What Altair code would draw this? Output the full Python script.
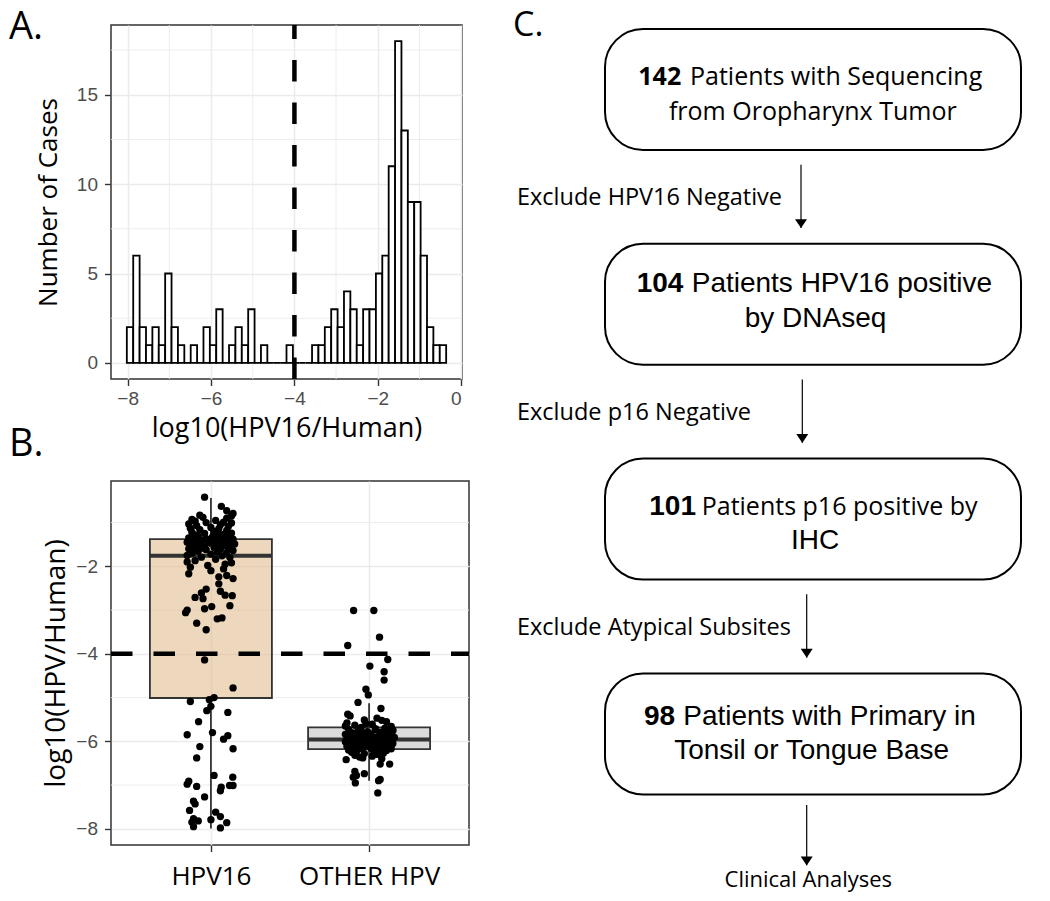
import altair as alt
import pandas as pd

# ---------------- Panel A : histogram of log10(HPV16/Human) ----------------
hist_counts = [2, 6, 2, 1, 2, 1, 5, 2, 1, 0,
               1, 0, 2, 1, 3, 0, 1, 2, 1, 3,
               0, 1, 0, 0, 0, 1, 0, 0, 0, 1,
               1, 2, 3, 2, 4, 3, 1, 3, 3, 5,
               6, 11, 18, 13, 9, 9, 6, 2, 1, 1]
hist_start = -8.02
hist_binwidth = 0.1532
cutoff = -4.0
a_x_ticks = [-8, -6, -4, -2, 0]
a_x_minor = [-7, -5, -3, -1]
a_y_ticks = [0, 5, 10, 15]
a_y_minor = [2.5, 7.5, 12.5, 17.5]

# ---------------- Panel B : box plots with jittered points ----------------
groups = ["HPV16", "OTHER HPV"]
box_lower = [-7.99, -6.90]
box_q1 = [-5.01, -6.18]
box_median = [-1.76, -5.96]
box_q3 = [-1.38, -5.68]
box_upper = [-0.44, -5.13]
b_y_ticks = [-2, -4, -6, -8]
b_y_minor = [-1, -3, -5, -7]

hpv16_values = [
    -7.98, -7.95, -7.72, -7.77, -7.79, -7.82, -7.85, -7.86, -7.58, -7.62,
    -7.43, -7.37, -7.27, -7.13, -7.01, -7.01, -7.03, -7.05, -6.98, -6.82,
    -6.91, -6.78, -6.38, -6.17, -6.12, -5.95, -5.87, -5.85, -5.80, -5.55,
    -5.34, -5.30, -5.20, -5.09, -5.05, -5.00, -4.78, -4.14,
    -3.45, -3.30, -3.20, -3.18, -3.06, -3.00, -2.97, -2.92, -2.90, -2.74,
    -2.71, -2.67, -2.66, -2.61, -2.57, -2.52, -2.40, -2.28, -2.24, -2.21,
    -2.17, -2.10, -2.06,
    -2.02, -1.98, -1.95, -1.92, -1.90,
    -1.87, -1.84, -1.80, -1.79, -1.76, -1.75,
    -1.72, -1.70, -1.69, -1.67, -1.65, -1.64, -1.62, -1.61, -1.60, -1.59, -1.585,
    -1.57, -1.565, -1.56, -1.55, -1.54, -1.53, -1.52, -1.51, -1.50, -1.49,
    -1.48, -1.47, -1.46, -1.45, -1.445, -1.44, -1.435, -1.43,
    -1.42, -1.41, -1.40, -1.39, -1.38, -1.37, -1.36, -1.35, -1.33, -1.32,
    -1.31, -1.29, -1.28,
    -1.27, -1.25, -1.24, -1.22, -1.20, -1.18, -1.16, -1.14, -1.13,
    -1.11, -1.09, -1.07, -1.05, -1.03, -1.01, -1.00, -0.99, -0.97,
    -0.95, -0.93, -0.90, -0.88, -0.85, -0.83,
    -0.79, -0.73, -0.63, -0.42]
hpv16_jitter = [
    0.06, -0.11, 0.06, -0.11, 0.00, -0.08, -0.12, 0.10, -0.135, 0.03,
    -0.10, -0.11, -0.04, 0.06, 0.118, 0.14, -0.09, 0.065, -0.15, 0.138,
    -0.14, 0.02, -0.09, 0.14, -0.07, 0.08, 0.107, -0.15, 0.01, -0.078,
    0.107, -0.026, 0.00, -0.13, -0.01, 0.02, 0.14, -0.04,
    -0.03, -0.09, 0.04, 0.07, -0.16, -0.15, -0.04, 0.005, 0.12, -0.05,
    -0.10, 0.135, 0.09, -0.06, 0.06, -0.03, 0.05, 0.14, 0.05, 0.10,
    -0.14, 0.00, 0.08,
    -0.13, -0.02, 0.09, 0.13, -0.15,
    -0.10, 0.03, 0.12, -0.06, 0.07, -0.15,
    0.00, -0.12, 0.10, 0.04, -0.08, 0.14, -0.03, 0.06, -0.14, 0.11, -0.05,
    0.02, -0.10, 0.13, -0.04, 0.07, -0.13, 0.10, -0.07, 0.04, 0.15,
    -0.11, 0.00, 0.08, -0.15, 0.12, -0.02, 0.05, -0.09,
    0.10, -0.06, 0.03, -0.12, 0.14, -0.03, 0.07, -0.14, 0.01, 0.11,
    -0.08, 0.05, -0.10,
    0.08, -0.04, 0.13, -0.12, 0.02, 0.10, -0.07, 0.05, -0.13,
    0.00, 0.11, -0.09, 0.06, -0.14, 0.13, -0.03, 0.08, -0.10,
    0.03, -0.12, 0.10, -0.05, 0.13, -0.07,
    0.14, 0.10, 0.066, -0.04]

other_values = [
    -3.01, -3.01, -3.62, -3.81, -4.13, -4.28, -4.41, -4.60, -4.81, -4.94,
    -5.11, -5.25, -5.38, -6.42, -6.52, -6.52, -6.69, -6.74, -6.78, -6.82,
    -6.95, -6.90, -6.87, -7.18,
    -5.42, -5.47, -5.51, -5.55, -5.58, -5.52, -5.61, -5.63, -5.66, -5.68,
    -5.70, -5.72, -5.73, -5.75, -5.76, -5.78, -5.79, -5.80, -5.81, -5.82,
    -5.83, -5.84, -5.85, -5.86, -5.87, -5.88, -5.88, -5.89, -5.90, -5.91,
    -5.91, -5.92, -5.93, -5.93, -5.94, -5.95, -5.95, -5.96, -5.96, -5.97,
    -5.97, -5.98, -5.98, -5.99, -6.00, -6.00, -6.01, -6.01, -6.02, -6.03,
    -6.03, -6.04, -6.05, -6.05, -6.06, -6.07, -6.08, -6.08, -6.09, -6.10,
    -6.11, -6.12, -6.13, -6.14, -6.15, -6.16, -6.17, -6.18, -6.19, -6.20,
    -6.21, -6.22, -6.24, -6.25, -6.27, -6.28, -6.30, -6.32, -6.34, -6.36,
    -5.65, -5.74, -5.86, -5.94, -6.02, -6.12, -5.78, -5.90, -6.06, -5.99,
    -6.38, -6.40, -5.60, -5.71, -6.23, -5.84, -6.09, -5.96, -6.14, -5.89]
other_jitter = [
    -0.098, 0.03, 0.066, -0.135, 0.118, 0.005, 0.095, 0.095, -0.02, -0.005,
    -0.07, 0.075, -0.135, -0.145, 0.07, 0.13, -0.09, -0.03, -0.08, -0.10,
    -0.087, 0.06, 0.07, 0.055,
    -0.12, 0.05, -0.03, 0.11, -0.14, 0.08, 0.02, -0.09, 0.14, -0.05,
    0.10, -0.13, 0.04, -0.07, 0.15, -0.01, 0.07, -0.11, 0.12, -0.04,
    0.01, -0.15, 0.09, -0.08, 0.13, -0.02, 0.06, -0.12, 0.03, 0.16,
    -0.10, 0.08, -0.06, 0.12, -0.14, 0.00, 0.10, -0.09, 0.05, -0.03,
    0.14, -0.13, 0.07, -0.01, 0.11, -0.07, 0.03, -0.15, 0.09, -0.05,
    0.13, -0.11, 0.02, 0.15, -0.08, 0.06, -0.12, 0.10, -0.02, 0.04,
    -0.14, 0.12, -0.06, 0.08, -0.10, 0.01, 0.14, -0.04, 0.07, -0.13,
    0.11, -0.08, 0.03, -0.11, 0.09, -0.03, 0.05, -0.09, 0.02, -0.06,
    -0.15, 0.15, -0.07, 0.13, -0.12, 0.06, 0.12, -0.10, 0.00, 0.10,
    -0.04, 0.08, -0.02, 0.04, -0.08, 0.14, -0.13, 0.11, 0.07, -0.05]

# ---------------- Panel C : flow chart ----------------
flow_counts = ["142", "104", "101", "98"]
flow_line1 = ["Patients with Sequencing", "Patients HPV16 positive",
              "Patients p16 positive by", "Patients with Primary in"]
flow_line2 = ["from Oropharynx Tumor", "by DNAseq", "IHC", "Tonsil or Tongue Base"]
flow_exclusions = ["Exclude HPV16 Negative", "Exclude p16 Negative", "Exclude Atypical Subsites"]
flow_final = "Clinical Analyses"

# ---------------- styles / layout ----------------
MY = "Open Sans"
AR = "Liberation Sans"
GRID = "#EBEBEB"
DARK = "#333333"
A_W, A_H = 351, 354
B_W, B_H = 358, 364
C_TOP = 25            # page y of panel C origin (row aligned with panel A)
C_W, C_H = 530, 893 - C_TOP
BOX_W = 122

axis_common = dict(domain=False, grid=True, gridColor=GRID, gridWidth=1.5,
                   tickColor=DARK, tickSize=6.5, tickWidth=1.4,
                   labelFont=AR, labelFontSize=19, labelColor="#4D4D4D",
                   titleFont=MY, titleFontWeight="normal", titleColor="black")

# ---- Panel A ----
edges = [hist_start + i * hist_binwidth for i in range(len(hist_counts) + 1)]
hist_df = pd.DataFrame({"x0": edges[:-1], "x1": edges[1:], "count": hist_counts,
                        "base": [0] * len(hist_counts)})
xA = alt.Scale(domain=[-8.40, 0.02], nice=False, zero=False)
yA = alt.Scale(domain=[-0.9, 18.9], nice=False, zero=False)
axAx = alt.Axis(values=a_x_ticks, title="log10(HPV16/Human)", titleFontSize=27,
                labelPadding=4, titlePadding=7, **axis_common)
axAy = alt.Axis(values=a_y_ticks, title="Number of Cases", titleFontSize=26,
                labelPadding=7, titlePadding=15, **axis_common)

a_minor_x = alt.Chart(pd.DataFrame({"v": a_x_minor})).mark_rule(
    color=GRID, strokeWidth=0.9).encode(x=alt.X("v:Q", scale=xA, axis=axAx))
a_minor_y = alt.Chart(pd.DataFrame({"v": a_y_minor})).mark_rule(
    color=GRID, strokeWidth=0.9).encode(y=alt.Y("v:Q", scale=yA, axis=axAy))
a_bars = alt.Chart(hist_df).mark_rect(fill="white", stroke="black", strokeWidth=1.8).encode(
    x=alt.X("x0:Q", scale=xA, axis=axAx), x2="x1:Q",
    y=alt.Y("count:Q", scale=yA, axis=axAy), y2="base:Q")
a_vline = alt.Chart(pd.DataFrame({"v": [cutoff]})).mark_rule(
    color="black", strokeWidth=4.5, strokeDash=[21.5, 21]).encode(
    x=alt.X("v:Q", scale=xA, axis=axAx), y=alt.value(A_H), y2=alt.value(0))
a_letter = alt.Chart(pd.DataFrame({"t": ["A."]})).mark_text(
    font=MY, fontSize=38, align="left", baseline="alphabetic", color="black").encode(
    x=alt.value(-102), y=alt.value(14), text="t:N")

chartA = alt.layer(a_minor_x, a_minor_y, a_bars, a_vline, a_letter).properties(
    width=A_W, height=A_H, view=alt.ViewBackground(stroke=DARK, strokeWidth=1.5))

# ---- Panel B ----
pts_df = pd.DataFrame({
    "xj": [1 + j for j in hpv16_jitter] + [2 + j for j in other_jitter],
    "y": hpv16_values + other_values})
box_df = pd.DataFrame({"g": [1, 2], "name": groups, "lo": box_lower, "q1": box_q1,
                       "med": box_median, "q3": box_q3, "hi": box_upper})
xB = alt.Scale(domain=[0.4, 2.6], nice=False, zero=False)
yB = alt.Scale(domain=[-8.37, -0.05], nice=False, zero=False)
axBx_opts = dict(axis_common)
axBx_opts.update(labelFont=MY, labelFontSize=26, labelColor="black")
axBx = alt.Axis(values=[1, 2], labelExpr=f"datum.value == 1 ? '{groups[0]}' : '{groups[1]}'",
                title="", labelPadding=12, **axBx_opts)
axBy = alt.Axis(values=b_y_ticks, title="log10(HPV/Human)", titleFontSize=28,
                labelPadding=7, titlePadding=5, **axis_common)

b_minor_y = alt.Chart(pd.DataFrame({"v": b_y_minor})).mark_rule(
    color=GRID, strokeWidth=0.9).encode(y=alt.Y("v:Q", scale=yB, axis=axBy))
b_box = alt.Chart(box_df).mark_bar(size=BOX_W, fillOpacity=0.55, stroke=DARK, strokeWidth=1.8).encode(
    x=alt.X("g:Q", scale=xB, axis=axBx),
    y=alt.Y("q1:Q", scale=yB, axis=axBy), y2="q3:Q",
    color=alt.Color("name:N", scale=alt.Scale(domain=groups, range=["#DEB887", "#BEBEBE"]), legend=None))
b_wlow = alt.Chart(box_df).mark_rule(color=DARK, strokeWidth=1.8).encode(
    x=alt.X("g:Q", scale=xB, axis=axBx), y=alt.Y("lo:Q", scale=yB, axis=axBy), y2="q1:Q")
b_whigh = alt.Chart(box_df).mark_rule(color=DARK, strokeWidth=1.8).encode(
    x=alt.X("g:Q", scale=xB, axis=axBx), y=alt.Y("q3:Q", scale=yB, axis=axBy), y2="hi:Q")
b_med = alt.Chart(box_df).mark_rule(color=DARK, strokeWidth=4, xOffset=-BOX_W / 2,
                                    x2Offset=BOX_W / 2).encode(
    x=alt.X("g:Q", scale=xB, axis=axBx), x2="g:Q", y=alt.Y("med:Q", scale=yB, axis=axBy))
b_pts = alt.Chart(pts_df).mark_circle(size=54, color="black", opacity=1).encode(
    x=alt.X("xj:Q", scale=xB, axis=axBx), y=alt.Y("y:Q", scale=yB, axis=axBy))
b_hline = alt.Chart(pd.DataFrame({"v": [cutoff]})).mark_rule(
    color="black", strokeWidth=4.5, strokeDash=[21.5, 21]).encode(
    y=alt.Y("v:Q", scale=yB, axis=axBy), x=alt.value(0), x2=alt.value(B_W))
b_letter = alt.Chart(pd.DataFrame({"t": ["B."]})).mark_text(
    font=MY, fontSize=38, align="left", baseline="alphabetic", color="black").encode(
    x=alt.value(-102), y=alt.value(-25), text="t:N")

chartB = alt.layer(b_minor_y, b_box, b_wlow, b_whigh, b_med, b_pts, b_hline, b_letter).properties(
    width=B_W, height=B_H, view=alt.ViewBackground(stroke=DARK, strokeWidth=1.5))

# ---- Panel C ----
STEP_PX = 214.8
BOX_HALF = 60.5 / STEP_PX
s0 = -(89.5 - C_TOP) / STEP_PX
yC = alt.Scale(domain=[s0, s0 + C_H / STEP_PX], nice=False, zero=False, reverse=True)
BOX_X1, BOX_X2 = 105, 521
num_font = [MY, AR, AR, AR]
rest_font = [MY, AR, MY, AR]
line2_font = [MY, AR, AR, AR]
size_of = {MY: 25, AR: 28}
num_left = [138.3, 136.7, 149.3, 144.0]
rest_left = [190.0, 191.7, 201.7, 183.3]
line2_center = [312.8, 315.5, 315.0, 311.7]
line1_dy = [-4.5, -12.6, -4.1, -8.9]
line2_dy = [30.5, 22.4, 30.2, 25.4]
arrow_x = [301.0, 302.3, 306.7, 306.7]
arrow_from = [0.35, 0.35, 0.35, 0.331]
arrow_to = [0.645, 0.645, 0.645, 0.612]
FINAL_OFFSET = 0.715

flow_df = pd.DataFrame({"step": list(range(len(flow_counts))), "num": flow_counts,
                        "l1": flow_line1, "l2": flow_line2})
flow_df["top"] = flow_df["step"] - BOX_HALF
flow_df["bot"] = flow_df["step"] + BOX_HALF

c_layers = []
c_layers.append(alt.Chart(flow_df).mark_rect(
    fill="white", stroke="black", strokeWidth=2, cornerRadius=38).encode(
    x=alt.value(BOX_X1), x2=alt.value(BOX_X2),
    y=alt.Y("top:Q", scale=yC, axis=None), y2="bot:Q"))
for i in range(len(flow_counts)):
    base = alt.Chart(flow_df).transform_filter(alt.datum.step == i)
    c_layers.append(base.mark_text(
        font=num_font[i], fontSize=size_of[num_font[i]], fontWeight="bold", align="left",
        baseline="alphabetic", dy=line1_dy[i], color="black").encode(
        x=alt.value(num_left[i]), y=alt.Y("step:Q", scale=yC, axis=None), text="num:N"))
    c_layers.append(base.mark_text(
        font=rest_font[i], fontSize=size_of[rest_font[i]], align="left",
        baseline="alphabetic", dy=line1_dy[i], color="black").encode(
        x=alt.value(rest_left[i]), y=alt.Y("step:Q", scale=yC, axis=None), text="l1:N"))
    c_layers.append(base.mark_text(
        font=line2_font[i], fontSize=size_of[line2_font[i]], align="center",
        baseline="alphabetic", dy=line2_dy[i], color="black").encode(
        x=alt.value(line2_center[i]), y=alt.Y("step:Q", scale=yC, axis=None), text="l2:N"))
    arrow_df = pd.DataFrame({"a": [i + arrow_from[i]], "b": [i + arrow_to[i]]})
    c_layers.append(alt.Chart(arrow_df).mark_rule(color="black", strokeWidth=1.2).encode(
        x=alt.value(arrow_x[i]), y=alt.Y("a:Q", scale=yC, axis=None), y2="b:Q"))
    c_layers.append(alt.Chart(arrow_df).mark_point(
        shape="M-1,-0.74L1,-0.74L0,0.74Z", filled=True, fill="black", opacity=1,
        size=144, strokeWidth=0, yOffset=-4.4).encode(
        x=alt.value(arrow_x[i]), y=alt.Y("b:Q", scale=yC, axis=None)))

excl_df = pd.DataFrame({"mid": [i + 0.5 for i in range(len(flow_exclusions))], "t": flow_exclusions})
c_layers.append(alt.Chart(excl_df).mark_text(
    font=MY, fontSize=23.5, align="left", baseline="middle", dy=1, color="black").encode(
    x=alt.value(17), y=alt.Y("mid:Q", scale=yC, axis=None), text="t:N"))
final_df = pd.DataFrame({"s": [len(flow_counts) - 1 + FINAL_OFFSET], "t": [flow_final]})
c_layers.append(alt.Chart(final_df).mark_text(
    font=MY, fontSize=22, align="center", baseline="alphabetic", color="black").encode(
    x=alt.value(308.3), y=alt.Y("s:Q", scale=yC, axis=None), text="t:N"))
c_layers.append(alt.Chart(pd.DataFrame({"t": ["C."]})).mark_text(
    font=MY, fontSize=34, align="left", baseline="alphabetic", color="black").encode(
    x=alt.value(13), y=alt.value(11), text="t:N"))

chartC = alt.layer(*c_layers).properties(width=C_W, height=C_H)

left = alt.vconcat(chartA, chartB, spacing=102, bounds="flush")
chart = alt.hconcat(left, chartC, spacing=27).properties(padding=0).configure_view(
    stroke="transparent")

chart.save("out.html", embed_options={"renderer": "svg", "actions": False})
